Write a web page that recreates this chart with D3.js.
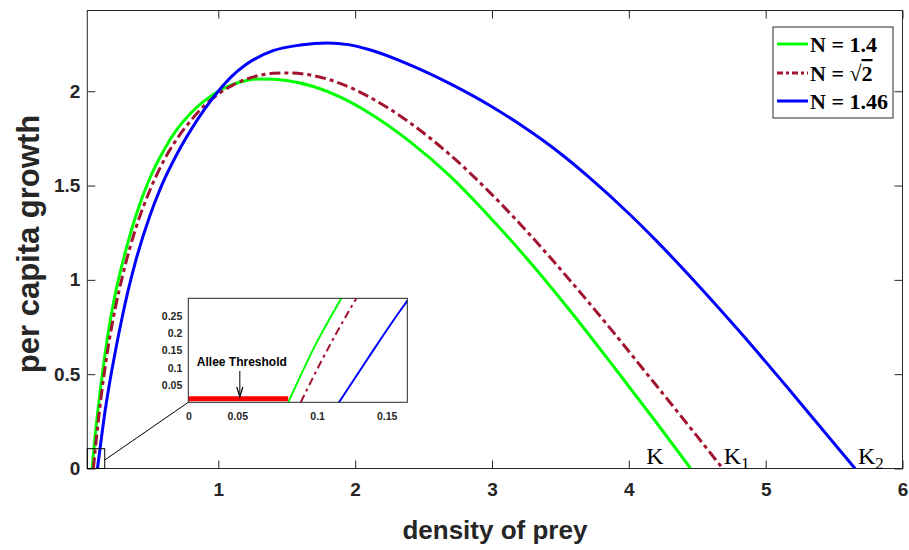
<!DOCTYPE html>
<html>
<head>
<meta charset="utf-8">
<script src="https://cdn.jsdelivr.net/npm/d3@7"></script>
<style>
  html, body { margin: 0; padding: 0; background: #fff; }
  svg { display: block; }
</style>
</head>
<body>
<svg id="chart" width="909" height="550"></svg>
<script>
// Per capita growth of the prey against prey density, for three values of N.
const seriesNames = ["N = 1.4", "N = \u221A2", "N = 1.46"];
const seriesColors = ["#00ff00", "#a2142f", "#0000ff"];

const growthN14 = [
  [0.0776, 0], [0.1, 0.175], [0.1157, 0.28], [0.14, 0.43], [0.17, 0.595], [0.2, 0.74],
  [0.25, 0.935], [0.3, 1.09], [0.35, 1.225], [0.4, 1.345], [0.5, 1.54], [0.6, 1.685],
  [0.7, 1.8], [0.8, 1.885], [0.9, 1.95], [1.0, 2.0], [1.1, 2.035], [1.2, 2.056],
  [1.3, 2.065], [1.4, 2.064], [1.5, 2.057], [1.7, 2.024], [1.9, 1.966], [2.1, 1.886],
  [2.4, 1.733], [2.7, 1.546], [3.0, 1.32], [3.3, 1.075], [3.6, 0.81], [3.9, 0.53],
  [4.2, 0.245], [4.452, 0]
];
const growthNsqrt2 = [
  [0.0873, 0], [0.1, 0.095], [0.1273, 0.28], [0.15, 0.415], [0.2, 0.665], [0.25, 0.86],
  [0.3, 1.02], [0.35, 1.16], [0.4, 1.28], [0.5, 1.475], [0.6, 1.63], [0.7, 1.75],
  [0.8, 1.845], [0.9, 1.925], [1.0, 1.985], [1.1, 2.03], [1.2, 2.063], [1.3, 2.084],
  [1.4, 2.095], [1.5, 2.097], [1.7, 2.082], [1.9, 2.039], [2.1, 1.971], [2.4, 1.833],
  [2.7, 1.659], [3.0, 1.452], [3.3, 1.221], [3.6, 0.972], [3.9, 0.711], [4.2, 0.441],
  [4.5, 0.17], [4.686, 0]
];
const growthN146 = [
  [0.117, 0], [0.14, 0.13], [0.1675, 0.28], [0.2, 0.43], [0.25, 0.63], [0.3, 0.81],
  [0.34, 0.94], [0.4, 1.11], [0.5, 1.34], [0.574, 1.48], [0.7, 1.67], [0.8, 1.795],
  [0.9, 1.905], [1.0, 2.0], [1.1, 2.08], [1.2, 2.14], [1.4, 2.215], [1.6, 2.245],
  [1.8, 2.256], [1.95, 2.247], [2.1, 2.221], [2.4, 2.14], [2.7, 2.038], [3.0, 1.918],
  [3.2, 1.826], [3.5, 1.67], [3.7, 1.55], [4.0, 1.352], [4.2, 1.208], [4.5, 0.977],
  [4.8, 0.734], [5.2, 0.394], [5.653, 0]
];
const allSeries = [growthN14, growthNsqrt2, growthN146];

const xTicks = [1, 2, 3, 4, 5, 6];
const yTicks = [0, 0.5, 1, 1.5, 2];
const carryingLabels = [
  { base: "K", sub: "", x: 4.452, dx: -44.5 },
  { base: "K", sub: "1", x: 4.686, dx: 1 },
  { base: "K", sub: "2", x: 5.653, dx: 3 }
];
const alleeThreshold = 0.0776;
const insetXTickPos = [0, 0.038, 0.1, 0.154];
const insetXTickText = ["0", "0.05", "0.1", "0.15"];
const insetYTicks = [0.05, 0.1, 0.15, 0.2, 0.25];

const axisColor = "#262626";
const sansBold = "'Liberation Sans', Arial, Helvetica, sans-serif";
const serif = "'Liberation Serif', 'Times New Roman', serif";

const svg = d3.select("#chart");

// ---- main axes ----
const box = { left: 87.3, right: 902.5, top: 10.5, bottom: 468.5 };
const x = d3.scaleLinear().domain([0.0427, 6]).range([box.left, box.right]);
const y = d3.scaleLinear().domain([0, 2.428]).range([box.bottom, box.top]);

svg.append("clipPath").attr("id", "mainClip")
  .append("rect").attr("x", box.left).attr("y", box.top)
  .attr("width", box.right - box.left).attr("height", box.bottom - box.top);

function styleAxis(g, fontSize) {
  g.select(".domain").remove();
  g.selectAll(".tick line").attr("stroke", axisColor);
  g.selectAll(".tick text")
    .attr("fill", axisColor)
    .style("font-family", sansBold)
    .style("font-weight", "bold")
    .style("font-size", fontSize + "px");
}

const tickLen = 8;
svg.append("g").attr("transform", `translate(0,${box.bottom})`)
  .call(d3.axisBottom(x).tickValues(xTicks).tickFormat(d3.format("d"))
    .tickSize(-tickLen).tickPadding(14))
  .call(g => styleAxis(g, 19));
svg.append("g").attr("transform", `translate(0,${box.top})`)
  .call(d3.axisTop(x).tickValues(xTicks).tickFormat("").tickSize(-tickLen))
  .call(g => styleAxis(g, 19));
svg.append("g").attr("transform", `translate(${box.left},0)`)
  .call(d3.axisLeft(y).tickValues(yTicks).tickFormat(d => d3.format("")(d))
    .tickSize(-tickLen).tickPadding(7))
  .call(g => styleAxis(g, 19));
svg.append("g").attr("transform", `translate(${box.right},0)`)
  .call(d3.axisRight(y).tickValues(yTicks).tickFormat("").tickSize(-tickLen))
  .call(g => styleAxis(g, 19));

svg.append("rect")
  .attr("x", box.left).attr("y", box.top)
  .attr("width", box.right - box.left).attr("height", box.bottom - box.top)
  .attr("fill", "none").attr("stroke", axisColor).attr("stroke-width", 1);

// curves
const mainLine = d3.line().x(d => x(d[0])).y(d => y(d[1])).curve(d3.curveMonotoneX);
const curveG = svg.append("g").attr("clip-path", "url(#mainClip)");
allSeries.forEach((s, i) => {
  curveG.append("path").datum(s)
    .attr("d", mainLine)
    .attr("fill", "none")
    .attr("stroke", seriesColors[i])
    .attr("stroke-width", 3)
    .attr("stroke-dasharray", i === 1 ? "11,4,4,4" : null);
});

// carrying capacity labels
carryingLabels.forEach(k => {
  const t = svg.append("text")
    .attr("x", x(k.x) + k.dx)
    .attr("y", y(0) - 5)
    .attr("fill", "#000")
    .style("font-family", serif)
    .style("font-size", "24px")
    .text(k.base);
  if (k.sub) {
    t.append("tspan").attr("dy", 5).style("font-size", "17px").text(k.sub);
  }
});

// axis titles
svg.append("text")
  .attr("x", (box.left + box.right) / 2).attr("y", 539)
  .attr("text-anchor", "middle").attr("fill", axisColor)
  .style("font-family", sansBold).style("font-weight", "bold").style("font-size", "26px")
  .text("density of prey");
svg.append("text")
  .attr("transform", `translate(39,244) rotate(-90)`)
  .attr("text-anchor", "middle").attr("fill", axisColor)
  .style("font-family", sansBold).style("font-weight", "bold").style("font-size", "31px")
  .text("per capita growth");

// legend
const legend = svg.append("g");
legend.append("rect").attr("x", 773).attr("y", 27).attr("width", 120).attr("height", 91)
  .attr("fill", "#fff").attr("stroke", axisColor).attr("stroke-width", 1);
const legendRows = [44, 73, 101];
seriesNames.forEach((name, i) => {
  legend.append("line")
    .attr("x1", 777).attr("x2", 808).attr("y1", legendRows[i]).attr("y2", legendRows[i])
    .attr("stroke", seriesColors[i]).attr("stroke-width", 3)
    .attr("stroke-dasharray", i === 1 ? "6,3,3,3" : null);
  const t = legend.append("text")
    .attr("x", 810).attr("y", legendRows[i] + 8)
    .attr("fill", "#000")
    .style("font-family", serif).style("font-weight", "bold").style("font-size", "22px");
  if (i === 1) {
    t.append("tspan").text("N = \u221A");
    t.append("tspan").style("text-decoration", "overline").text("2");
  } else {
    t.text(name);
  }
});

// ---- zoom region marker and inset ----
const zoomXMax = 0.17, zoomYMax = 0.105;
svg.append("rect")
  .attr("x", x(0.0427)).attr("y", y(zoomYMax))
  .attr("width", x(zoomXMax) - x(0.0427)).attr("height", y(0) - y(zoomYMax))
  .attr("fill", "none").attr("stroke", "#000").attr("stroke-width", 1);

const ibox = { left: 188.3, right: 407.3, top: 298.3, bottom: 402.3 };
const ix = d3.scaleLinear().domain([0, 0.17]).range([ibox.left, ibox.right]);
const iy = d3.scaleLinear().domain([0, 0.3]).range([ibox.bottom, ibox.top]);

svg.append("line")
  .attr("x1", x(zoomXMax)).attr("y1", y(0.045))
  .attr("x2", ibox.left).attr("y2", ibox.bottom)
  .attr("stroke", "#000").attr("stroke-width", 1);

svg.append("rect")
  .attr("x", ibox.left).attr("y", ibox.top)
  .attr("width", ibox.right - ibox.left).attr("height", ibox.bottom - ibox.top)
  .attr("fill", "#fff");

svg.append("clipPath").attr("id", "insetClip")
  .append("rect").attr("x", ibox.left).attr("y", ibox.top)
  .attr("width", ibox.right - ibox.left).attr("height", ibox.bottom - ibox.top);

svg.append("g").attr("transform", `translate(0,${ibox.bottom})`)
  .call(d3.axisBottom(ix).tickValues(insetXTickPos)
    .tickFormat((d, i) => insetXTickText[i])
    .tickSize(0).tickPadding(10))
  .call(g => styleAxis(g, 10.5));
svg.append("g").attr("transform", `translate(${ibox.left},0)`)
  .call(d3.axisLeft(iy).tickValues(insetYTicks).tickFormat(d => d3.format("")(d))
    .tickSize(0).tickPadding(6))
  .call(g => styleAxis(g, 10.5));

const insetLine = d3.line().x(d => ix(d[0])).y(d => iy(d[1])).curve(d3.curveMonotoneX);
const insetG = svg.append("g").attr("clip-path", "url(#insetClip)");
insetG.append("line")
  .attr("x1", ix(0)).attr("x2", ix(alleeThreshold))
  .attr("y1", iy(0.01)).attr("y2", iy(0.01))
  .attr("stroke", "#ff0000").attr("stroke-width", 5);
allSeries.forEach((s, i) => {
  insetG.append("path").datum(s)
    .attr("d", insetLine)
    .attr("fill", "none")
    .attr("stroke", seriesColors[i])
    .attr("stroke-width", 2)
    .attr("stroke-dasharray", i === 1 ? "8,4,3,4" : null);
});

svg.append("rect")
  .attr("x", ibox.left).attr("y", ibox.top)
  .attr("width", ibox.right - ibox.left).attr("height", ibox.bottom - ibox.top)
  .attr("fill", "none").attr("stroke", axisColor).attr("stroke-width", 1);

// Allee threshold annotation
const arrowX = ix(0.04);
svg.append("text")
  .attr("x", arrowX + 2).attr("y", 366)
  .attr("text-anchor", "middle").attr("fill", "#000")
  .style("font-family", sansBold).style("font-weight", "bold").style("font-size", "12px")
  .text("Allee Threshold");
svg.append("line")
  .attr("x1", arrowX).attr("x2", arrowX).attr("y1", 371).attr("y2", 394)
  .attr("stroke", "#000").attr("stroke-width", 1);
svg.append("path")
  .attr("d", `M${arrowX - 3},${387} L${arrowX},${397} L${arrowX + 3},${387}`)
  .attr("fill", "none").attr("stroke", "#000").attr("stroke-width", 1.2);
</script>
</body>
</html>
